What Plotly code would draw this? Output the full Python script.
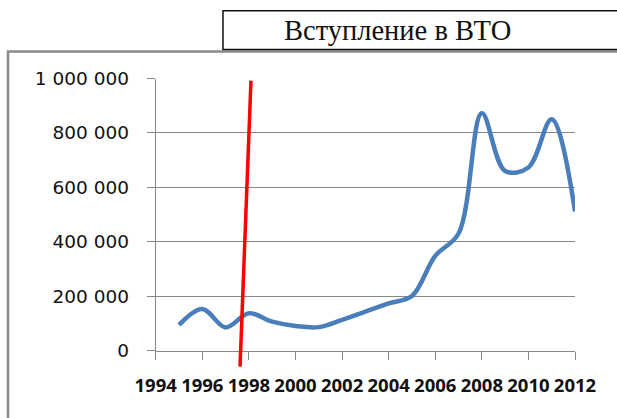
import plotly.graph_objects as go

# ---- data ----
years = list(range(1995, 2013))
values = [94000, 153000, 85000, 137000, 106000, 90000, 86000, 113000, 143000,
          173000, 200000, 348000, 430000, 872000, 660000, 673000, 850000, 511000]

wto_x = [1997.62, 1998.09]
wto_y = [-59500, 992000]

x_tickvals = list(range(1994, 2013, 2))
x_ticktext = [str(v) for v in x_tickvals]
y_tickvals = [0, 200000, 400000, 600000, 800000, 1000000]
y_ticktext = ["0", "200 000", "400 000", "600 000", "800 000", "1 000 000"]
title_text = "Вступление в ВТО"

# ---- geometry ----
W, H = 617, 418
xdom = [155.7 / W, 575.0 / W]
ydom = [(H - 350.5) / H, (H - 78.5) / H]
y2dom = [0.05, 0.95]
scale = (ydom[1] - ydom[0]) / 1_000_000
y2range = [(y2dom[0] - ydom[0]) / scale, (y2dom[1] - ydom[0]) / scale]

grid = "#878787"
fig = go.Figure()

fig.add_trace(go.Scatter(
    x=years, y=values, mode="lines",
    line=dict(color="#4a7ebb", width=4.5, shape="spline", smoothing=1.0),
    xaxis="x", yaxis="y", showlegend=False, hoverinfo="x+y",
))
fig.add_trace(go.Scatter(
    x=wto_x, y=wto_y, mode="lines",
    line=dict(color="#ff0000", width=3.5),
    xaxis="x2", yaxis="y2", showlegend=False, hoverinfo="skip",
))

fig.update_layout(
    template="none",
    width=W, height=H,
    margin=dict(l=0, r=0, t=0, b=0, autoexpand=False),
    paper_bgcolor="white", plot_bgcolor="rgba(0,0,0,0)",
    xaxis=dict(
        domain=xdom, range=[1994, 2012], anchor="y", automargin=False,
        tickvals=x_tickvals, ticktext=x_ticktext,
        ticks="outside", ticklen=8, tickcolor=grid, tickwidth=1,
        showline=True, linecolor=grid, linewidth=1,
        showgrid=False, zeroline=False,
        tickfont=dict(family="Open Sans", size=18.5, color="#111111", weight="bold"),
        ticklabelstandoff=10,
    ),
    yaxis=dict(
        domain=ydom, range=[0, 1_000_000], anchor="x", automargin=False,
        tickvals=y_tickvals, ticktext=y_ticktext,
        ticks="outside", ticklen=8, tickcolor=grid, tickwidth=1,
        showline=True, linecolor=grid, linewidth=1,
        showgrid=True, gridcolor=grid, gridwidth=1, zeroline=False,
        tickfont=dict(family="DejaVu Sans", size=18.5, color="#111111"),
        ticklabelstandoff=14,
    ),
    xaxis2=dict(domain=xdom, range=[1994, 2012], anchor="y2", visible=False,
                automargin=False),
    yaxis2=dict(domain=y2dom, range=y2range, anchor="x2", visible=False,
                automargin=False),
    shapes=[
        dict(type="rect", xref="paper", yref="paper",
             x0=8 / W, x1=1.2, y0=-0.2, y1=(H - 51.5) / H,
             line=dict(color="#8a8a8a", width=2.5), fillcolor="rgba(0,0,0,0)",
             layer="below"),
        dict(type="rect", xref="paper", yref="paper",
             x0=223 / W, x1=1.2, y0=(H - 49.5) / H, y1=(H - 10.7) / H,
             line=dict(color="#111111", width=1.5), fillcolor="white",
             layer="below"),
    ],
    annotations=[
        dict(text=title_text, xref="paper", yref="paper",
             x=397 / W, y=(H - 30) / H, xanchor="center", yanchor="middle",
             showarrow=False,
             font=dict(family="Liberation Serif", size=28.5, color="#111111")),
    ],
)

fig.write_html("out.html", config={"displayModeBar": False},
               post_script="document.body.style.margin='0';document.body.style.overflow='hidden';")
